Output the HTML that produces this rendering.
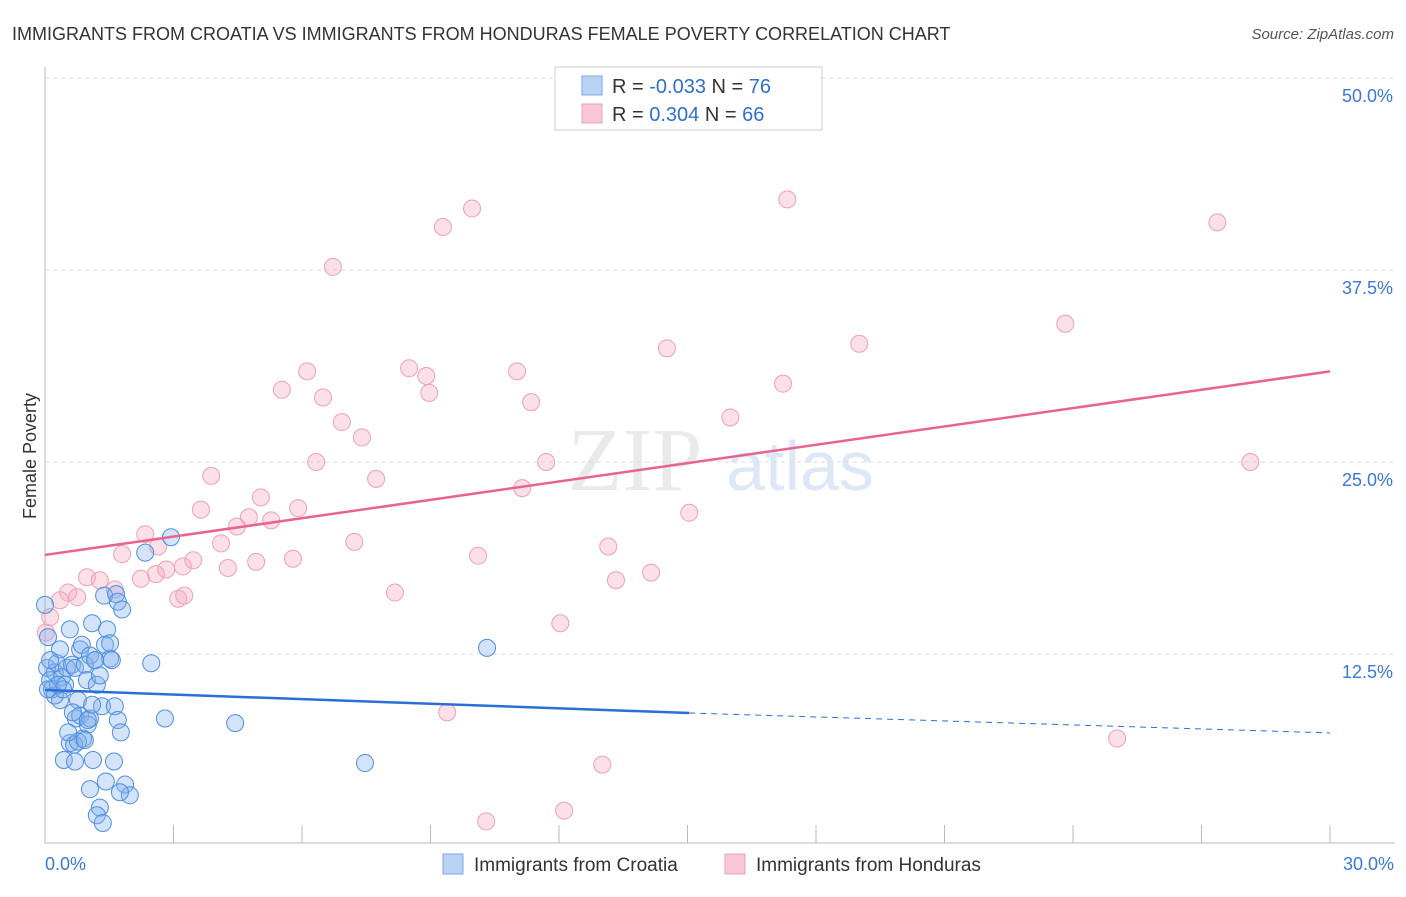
<!DOCTYPE html>
<html><head><meta charset="utf-8"><style>
body{margin:0;background:#fff;font-family:"Liberation Sans",sans-serif}
</style></head><body>
<svg width="1406" height="892" xmlns="http://www.w3.org/2000/svg" id="chart" font-family="Liberation Sans, sans-serif">
<text x="12" y="40" font-size="18" fill="#333">IMMIGRANTS FROM CROATIA VS IMMIGRANTS FROM HONDURAS FEMALE POVERTY CORRELATION CHART</text>
<text x="1394" y="39" font-size="15" fill="#555" font-style="italic" text-anchor="end">Source: ZipAtlas.com</text>
<text x="36" y="456" font-size="18" fill="#333" text-anchor="middle" transform="rotate(-90 36 456)">Female Poverty</text>
<g><text x="635" y="490" font-size="90" fill="#ddd" font-family="Liberation Serif, serif" text-anchor="middle" opacity="0.6">ZIP</text><text x="800" y="490" font-size="70" fill="#c8daf2" text-anchor="middle" opacity="0.6">atlas</text></g>
<g id="grid"></g><g id="axes"></g><g id="marks"></g><g id="lines"></g>
<g>
<rect x="555" y="67" width="267" height="63" fill="#fff" stroke="#ccc"/>
<rect x="582" y="76" width="20" height="19" fill="#b9d3f5" stroke="#7aaae6"/>
<rect x="582" y="104" width="20" height="19" fill="#f9c6d5" stroke="#eea0b8"/>
<text x="612" y="93" font-size="20" fill="#333">R = <tspan fill="#2f6fd0">-0.033</tspan>   N = <tspan fill="#2f6fd0">76</tspan></text>
<text x="612" y="121" font-size="20" fill="#333">R =  <tspan fill="#2f6fd0">0.304</tspan>   N = <tspan fill="#2f6fd0">66</tspan></text>
</g>
<g>
<rect x="443" y="854" width="20" height="20" fill="#b9d3f5" stroke="#7aaae6"/>
<text x="474" y="871" font-size="19" fill="#333">Immigrants from Croatia</text>
<rect x="725" y="854" width="20" height="20" fill="#f9c6d5" stroke="#eea0b8"/>
<text x="756" y="871" font-size="19" fill="#333">Immigrants from Honduras</text>
</g>
</svg>
<script>
const croatiaX=[0,.07,.05,.12,.16,.23,.28,.35,.40,.47,.51,.58,.63,.70,.77,.82,.86,.93,.98,1.05,1.10,1.17,1.21,1.28,1.33,1.40,1.45,1.52,1.56,1.63,1.70,1.77,.72,.82,.89,1.00,.58,.68,.77,.44,.70,1.12,1.05,1.00,1.61,1.05,1.42,1.87,1.98,1.75,1.28,1.21,1.35,1.38,1.66,1.70,1.80,2.34,2.94,2.48,2.80,4.44,7.47,10.32,1.17,1.52,.54,.35,.23,.12,.42,.65,.93,1.10,.30,.07];
const croatiaY=[15.7,13.6,11.6,10.8,10.2,11.3,11.9,12.8,11.0,10.5,11.6,14.1,11.8,11.6,9.5,12.8,13.1,11.8,10.8,12.4,14.5,12.1,10.5,11.1,9.1,13.1,14.1,12.2,12.1,9.1,8.2,7.4,8.3,8.5,7.0,7.9,6.7,6.6,6.8,5.6,5.5,5.6,8.3,8.2,5.5,3.7,4.2,4.0,3.3,3.5,2.5,2.0,1.5,16.3,16.4,15.9,15.4,19.1,20.1,11.9,8.3,8.0,5.4,12.9,12.1,13.2,7.4,9.5,9.8,12.1,10.2,8.7,6.9,9.2,10.5,10.2];
const hondurasX=[6.72,9.29,9.97,17.33,27.37,5.53,6.12,6.49,6.93,7.40,8.50,8.90,8.97,11.02,11.35,14.52,17.23,19.01,23.82,16.00,28.14,3.88,6.33,7.73,11.70,11.14,3.64,5.04,5.91,4.48,4.76,5.28,15.04,2.34,4.11,2.64,3.46,4.27,4.93,5.79,7.22,10.11,13.15,1.80,2.83,3.22,2.24,2.59,.98,1.28,1.63,.75,.54,.35,3.11,3.25,8.17,13.33,14.15,12.03,9.39,25.03,13.01,12.12,10.30,.02,.12];
const hondurasY=[37.7,40.3,41.5,42.1,40.6,29.7,30.9,29.2,27.6,26.6,31.1,30.6,29.5,30.9,28.9,32.4,30.1,32.7,34.0,27.9,25.0,24.1,25.0,23.9,25.0,23.3,21.9,22.7,22.0,20.8,21.4,21.2,21.7,20.3,19.7,19.5,18.6,18.1,18.5,18.7,19.8,18.9,19.5,19.0,18.0,18.2,17.4,17.7,17.5,17.3,16.7,16.2,16.5,16.0,16.1,16.3,16.5,17.3,17.8,14.5,8.7,7.0,5.3,2.3,1.6,13.9,14.9];
const croatiaTrend=[10.16,8.66,7.36]; // at x=0, 15.04, 30
const hondurasTrend=[18.95,30.9];
const yTicks=[12.5,25,37.5,50];
const yTickLabels=["12.5%","25.0%","37.5%","50.0%"];
const xTickLabels=["0.0%","30.0%"];
const X=v=>45+v/30*1285, Y=v=>846-v/12.5*192;
const NS="http://www.w3.org/2000/svg";
function mk(tag,attrs,parent){const e=document.createElementNS(NS,tag);for(const k in attrs)e.setAttribute(k,attrs[k]);document.getElementById(parent).appendChild(e);return e;}
yTicks.forEach((t,i)=>{
 const l=mk('line',{x1:45,x2:1395,y1:Y(t),y2:Y(t),stroke:'#ddd','stroke-dasharray':'4,4'},'grid');
 
 
 const tx=mk('text',{x:1393,y:Y(t)+24,'font-size':18,fill:'#3b78d8','text-anchor':'end'},'axes');
 tx.textContent=yTickLabels[i];
 
 
});
let a=mk('line',{x1:45,x2:45,y1:67,y2:843,stroke:'#bbb'},'axes');


a=mk('line',{x1:45,x2:1395,y1:843,y2:843,stroke:'#bbb'},'axes');


for(let i=0;i<=10;i++){const t=mk('line',{x1:X(i*3),x2:X(i*3),y1:825,y2:843,stroke:'#bbb'},'axes');
 
 }
[[0,'start',45],[30,'end',1394]].forEach((d,i)=>{const t=mk('text',{x:d[2],y:870,'font-size':18,fill:'#3b78d8','text-anchor':d[1]},'axes');t.textContent=xTickLabels[i];
 
 });
hondurasX.forEach((x,i)=>{const c=mk('circle',{cx:X(x),cy:Y(hondurasY[i]),r:8.5,fill:'rgba(244,165,190,0.35)',stroke:'#eea0b8','stroke-width':1},'marks');
 
 });
croatiaX.forEach((x,i)=>{const c=mk('circle',{cx:X(x),cy:Y(croatiaY[i]),r:8.5,fill:'rgba(130,175,235,0.35)',stroke:'#4f8fe0','stroke-width':1},'marks');
 
 });
let ln=mk('line',{x1:X(0),y1:Y(hondurasTrend[0]),x2:X(30),y2:Y(hondurasTrend[1]),stroke:'#e8648e','stroke-width':2.5},'lines');


ln=mk('line',{x1:X(0),y1:Y(croatiaTrend[0]),x2:X(15.04),y2:Y(croatiaTrend[1]),stroke:'#2a6fd6','stroke-width':2.5},'lines');


ln=mk('line',{x1:X(15.04),y1:Y(croatiaTrend[1]),x2:X(30),y2:Y(croatiaTrend[2]),stroke:'#2a6fd6','stroke-width':1,'stroke-dasharray':'6,5'},'lines');


</script>
</body></html>
